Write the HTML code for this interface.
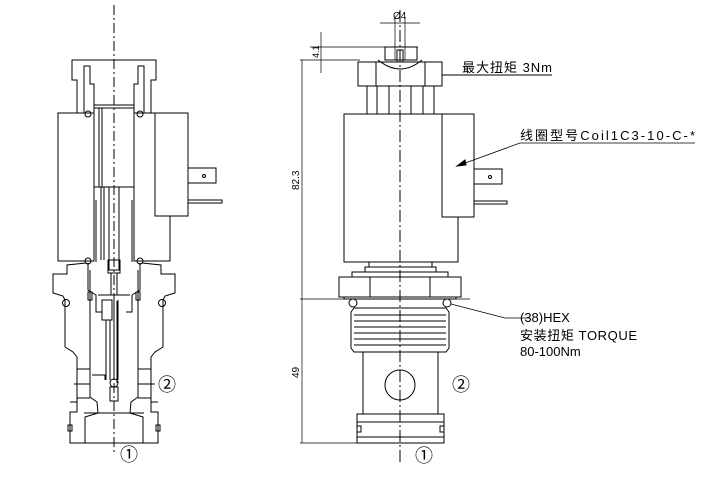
<!DOCTYPE html>
<html><head><meta charset="utf-8"><style>
html,body{margin:0;padding:0;background:#fff;}
svg{display:block;}
text{font-family:"Liberation Sans","Noto Sans CJK SC",sans-serif;fill:#000;}
</style></head><body>
<svg width="708" height="487" viewBox="0 0 708 487" xmlns="http://www.w3.org/2000/svg" fill="none" stroke="#000" stroke-width="1">
<g id="half">
<polyline points="114,60 72,60 72,80 77,80 77,113 84,113 84,66 90,66 90,84 94,84 94,113"/>
<rect x="58" y="113" width="36" height="148"/>
<circle cx="88" cy="114" r="3"/>
<circle cx="88" cy="261" r="3"/>
<polyline points="114,443 70,443 70,412 77,412 77,357 73,352 65,347 65,300 63,296 53,293 53,274 67,274 67,265 86,263"/>
<circle cx="66" cy="303" r="3.5"/>
<polyline points="90,270 90,298 90,397 97,402 98,413 85,417 85,443"/>
<line x1="77" y1="369" x2="90" y2="369"/><line x1="77" y1="398" x2="90" y2="398"/>
<line x1="70" y1="402" x2="77" y2="402"/>
<rect x="68" y="425" width="4" height="6"/>
<polyline points="88,263 88,290 96,295 96,312 102,312"/>
<rect x="88" y="292" width="4" height="8"/>
<polyline points="96,200 96,262"/>
</g>
<use href="#half" transform="translate(228,0) scale(-1,1)"/>
<rect x="155" y="113" width="33" height="103" fill="#fff"/>
<rect x="188" y="168" width="28" height="15" fill="#fff"/>
<circle cx="204" cy="176" r="1.5"/>
<rect x="188" y="200" width="34" height="3" fill="#fff"/>
<rect x="94" y="105" width="40" height="82"/>
<line x1="99" y1="108" x2="99" y2="187"/><line x1="102" y1="108" x2="102" y2="187"/>
<line x1="94" y1="108" x2="134" y2="108"/>
<rect x="109" y="187" width="10" height="83"/>
<line x1="101" y1="187" x2="101" y2="260"/><line x1="104" y1="187" x2="104" y2="260"/>
<rect x="108" y="260" width="12" height="13"/>
<rect x="111" y="273" width="6" height="22"/>
<line x1="98" y1="295" x2="130" y2="295"/>
<rect x="102" y="300" width="10" height="20"/>
<line x1="106" y1="320" x2="106" y2="380"/><line x1="110" y1="320" x2="110" y2="380"/>
<line x1="114" y1="300" x2="114" y2="380"/><line x1="118" y1="300" x2="118" y2="380"/>
<polyline points="92,375 105,375 105,380"/>
<circle cx="114" cy="383" r="4"/>
<rect x="110" y="387" width="8" height="14"/>
<line x1="117" y1="301" x2="117" y2="383"/>
<line x1="84" y1="413" x2="144" y2="413"/>
<line x1="74" y1="384" x2="90" y2="384"/><line x1="138" y1="384" x2="155" y2="384"/>
<text x="158" y="391" font-size="18" stroke="none">②</text>
<text x="120" y="461" font-size="18" stroke="none">①</text>
<line x1="114" y1="5" x2="114" y2="452" stroke-dasharray="10,3,2,3"/>

<line x1="400" y1="10" x2="400" y2="465" stroke-dasharray="12,3,2,3"/>
<text x="393" y="19" font-size="10" stroke="none">Ø4</text>
<line x1="380" y1="23" x2="420" y2="23" stroke-width="0.7"/>
<line x1="395" y1="18" x2="395" y2="60" stroke-width="0.7"/><line x1="405" y1="18" x2="405" y2="60" stroke-width="0.7"/>
<line x1="310" y1="47" x2="418" y2="47" stroke-width="0.7"/>
<line x1="300" y1="60" x2="360" y2="60" stroke-width="0.7"/>
<line x1="321" y1="32" x2="321" y2="73" stroke-width="0.7"/>
<text transform="translate(319,58) rotate(-90)" font-size="9" stroke="none">4.1</text>
<rect x="385" y="47" width="32" height="13"/>
<rect x="397" y="50" width="6" height="12"/>
<path d="M378 60 Q400 78 422 60"/>
<rect x="358" y="62" width="84" height="24"/>
<line x1="376" y1="62" x2="376" y2="86"/><line x1="425" y1="62" x2="425" y2="86"/>
<line x1="442" y1="75" x2="552" y2="75"/>
<text x="462" y="72" font-size="13" stroke="none" textLength="90">最大扭矩 3Nm</text>
<line x1="367" y1="86" x2="367" y2="114"/><line x1="377" y1="86" x2="377" y2="114"/>
<line x1="389" y1="86" x2="389" y2="114"/><line x1="411" y1="86" x2="411" y2="114"/>
<line x1="423" y1="86" x2="423" y2="114"/><line x1="434" y1="86" x2="434" y2="114"/>
<rect x="344" y="114" width="114" height="148"/>
<rect x="442" y="114" width="32" height="103" fill="#fff"/>
<rect x="474" y="169" width="28" height="15"/>
<circle cx="490" cy="177" r="1.5"/>
<rect x="474" y="201" width="33" height="3"/>
<polyline points="457,166 520,143 695,143" stroke-width="0.8"/>
<polygon points="457,166 465,160 466,165" fill="#000"/>
<text x="520" y="140" font-size="13" stroke="none" textLength="175">线圈型号Coil1C3-10-C-*</text>
<line x1="302" y1="60" x2="302" y2="443" stroke-width="0.7"/>
<text transform="translate(299,190) rotate(-90)" font-size="10" stroke="none">82.3</text>
<text transform="translate(299,378) rotate(-90)" font-size="10" stroke="none">49</text>
<rect x="369" y="262" width="63" height="5"/>
<rect x="365" y="267" width="71" height="5"/>
<rect x="352" y="272" width="96" height="5"/>
<rect x="339" y="277" width="122" height="20"/>
<line x1="370" y1="277" x2="370" y2="297"/><line x1="430" y1="277" x2="430" y2="297"/>
<rect x="344" y="297" width="112" height="2"/>
<line x1="300" y1="299" x2="470" y2="299" stroke-width="0.7"/>
<circle cx="353" cy="303" r="4"/><circle cx="447" cy="303" r="4"/>
<polygon points="354,308 446,308 449,312 449,348 446,352 354,352 351,348 351,312"/>
<line x1="354" y1="315" x2="446" y2="315"/><line x1="354" y1="321" x2="446" y2="321"/>
<line x1="354" y1="327" x2="446" y2="327"/><line x1="354" y1="333" x2="446" y2="333"/>
<line x1="354" y1="339" x2="446" y2="339"/><line x1="354" y1="345" x2="446" y2="345"/>
<line x1="363" y1="352" x2="363" y2="414"/><line x1="438" y1="352" x2="438" y2="414"/>
<circle cx="400" cy="385" r="15"/>
<rect x="357" y="414" width="87" height="8"/>
<rect x="357" y="422" width="87" height="15"/>
<rect x="357" y="426" width="4" height="6"/><rect x="440" y="426" width="4" height="6"/>
<rect x="357" y="437" width="87" height="6"/>
<line x1="300" y1="443" x2="357" y2="443" stroke-width="0.7"/>
<polyline points="451,304 505,318 530,318" stroke-width="0.8"/>
<text x="520" y="322" font-size="13" stroke="none">(38)HEX</text>
<text x="520" y="340" font-size="13" stroke="none" textLength="117">安装扭矩 TORQUE</text>
<text x="520" y="356" font-size="13" stroke="none">80-100Nm</text>
<text x="452" y="391" font-size="18" stroke="none">②</text>
<text x="415" y="462" font-size="18" stroke="none">①</text>
</svg>
</body></html>
